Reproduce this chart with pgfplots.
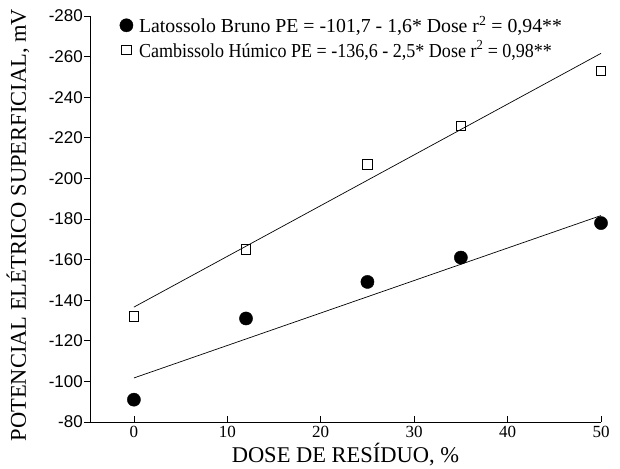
\documentclass[border=0pt]{standalone}
\usepackage{pgfplots}
\pgfplotsset{compat=1.18}
\usepackage{fontspec}
\setmainfont{Liberation Serif}
\newfontfamily\arialfont{Liberation Sans}
\usetikzlibrary{calc}
\begin{document}
\begin{tikzpicture}
\begin{axis}[
  scale only axis,
  width=511pt, height=406pt,
  xmin=-4.7, xmax=50,
  ymin=-280, ymax=-80,
  y dir=reverse,
  axis x line*=bottom,
  axis y line*=left,
  xtick={0,10,...,50},
  ytick={-280,-260,...,-80},
  x tick style={black, line width=0.7pt},
  y tick style={black, line width=0.7pt},
  xtick align=inside,
  ytick align=outside,
  major tick length=6pt,
  axis line style={black, line width=0.7pt},
  x tick label style={font=\fontsize{17}{19}\selectfont, yshift=-1pt},
  y tick label style={font=\arialfont\fontsize{17}{19}\selectfont, inner sep=1pt},
  /pgf/number format/assume math mode=true,
  yticklabel={\pgfmathprintnumber{\tick}},
  xlabel={DOSE DE RESÍDUO, \%},
  ylabel={POTENCIAL ELÉTRICO SUPERFICIAL, mV},
  xlabel style={font=\fontsize{22.5}{24}\selectfont, at={(axis description cs:0.5,0)}, anchor=base, yshift=-40pt},
  ylabel style={font=\fontsize{22.5}{24}\selectfont, at={(axis description cs:-0.1409,0.485)}, anchor=center},
  legend image code/.code={\draw[#1] plot coordinates {(0pt,0pt)};},
  legend style={draw=none, fill=none, at={(axis description cs:0.058,1.0)}, anchor=north west,
    font=\fontsize{19.8}{21}\selectfont, row sep=6pt, inner sep=0pt, column sep=6pt,
    nodes={inner sep=0pt},
    legend cell align=left},
  clip=false,
]
\addplot[only marks, mark=*, mark size=6.6pt, black] coordinates {
  (0,-91) (12,-131) (25,-149) (35,-161) (50,-178)};
\addlegendentry{Latossolo Bruno PE = -101,7 - 1,6* Dose r\textsuperscript{2} = 0,94**}
\addplot[only marks, mark=square, mark size=4.7pt, black, mark options={line width=0.6pt}] coordinates {
  (0,-132) (12,-165) (25,-207) (35,-226) (50,-253)};
\addlegendentry{\scalebox{0.91}[1]{Cambissolo Húmico PE = -136,6 - 2,5* Dose r\textsuperscript{2} = 0,98**}}
\addplot[black, line width=0.7pt, forget plot] coordinates {(0,-101.7) (50,-181.7)};
\addplot[black, line width=0.7pt, forget plot] coordinates {(0,-136.6) (50,-261.6)};
\end{axis}
\pgfresetboundingbox
\useasboundingbox ($(current axis.south west)+(-90pt,-46pt)$) rectangle ($(current axis.north east)+(19pt,16pt)$);
\end{tikzpicture}
\end{document}
